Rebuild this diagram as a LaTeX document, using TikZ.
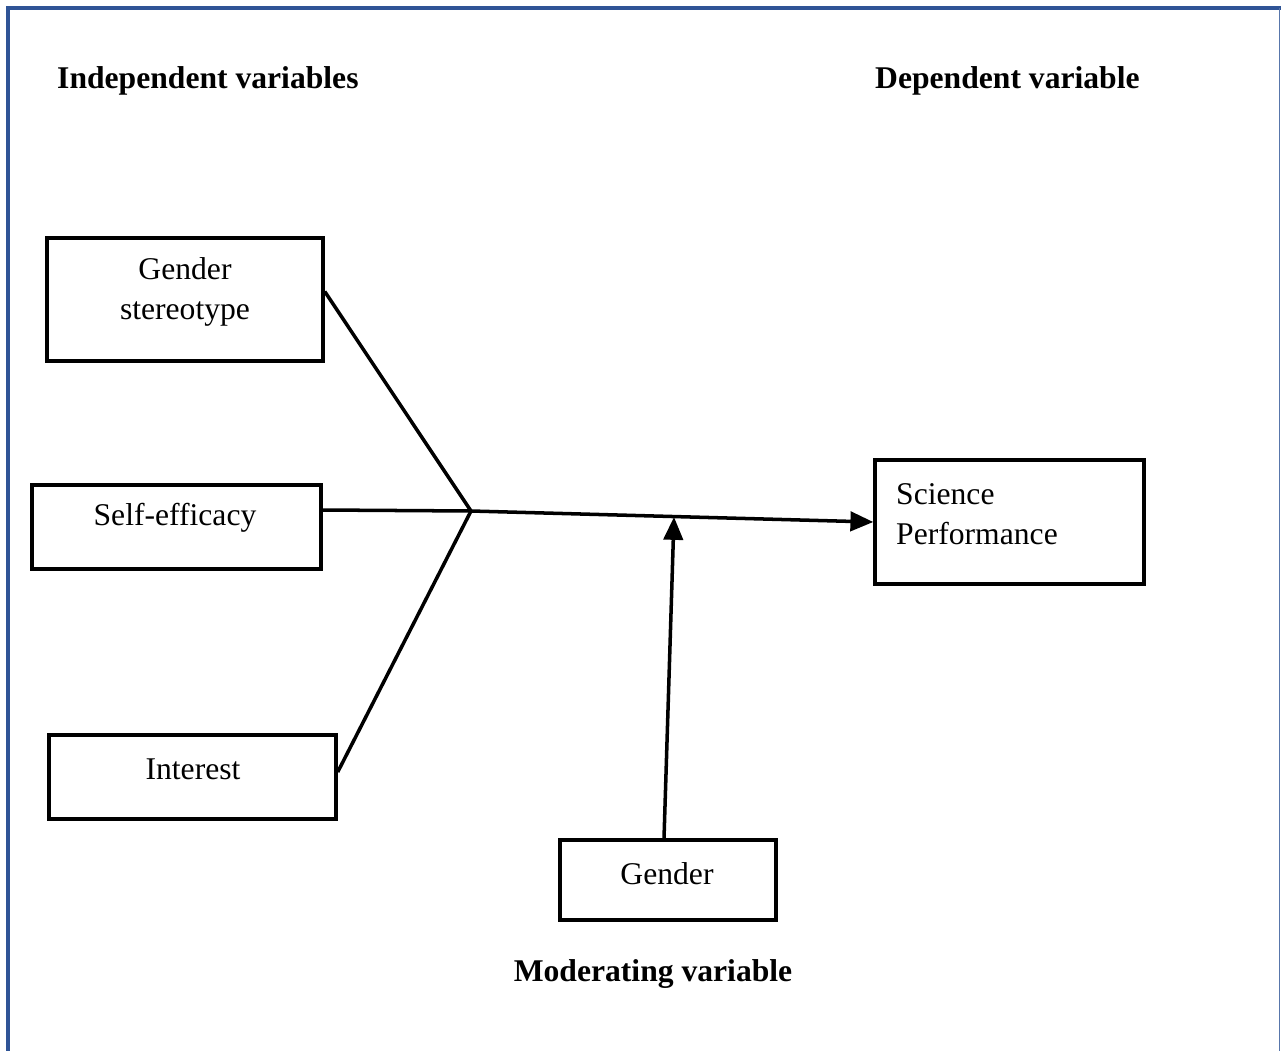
\documentclass[tikz,border=0pt]{standalone}
\usepackage{fontspec}
\setmainfont{Liberation Serif}
\usetikzlibrary{arrows.meta, positioning}
\definecolor{framebl}{HTML}{2F5496}
\tikzset{
  box/.style={draw, line width=2pt, inner sep=0pt},
  lbl/.style={font=\fontsize{18}{22.7}\selectfont, align=center},
  head/.style={font=\fontsize{18}{22}\selectfont\bfseries},
  link/.style={line width=2pt},
  arr/.style={line width=2pt, -{Triangle[length=13pt, width=11pt]}},
}

\begin{document}
\begin{tikzpicture}[x=0.02cm, y=-0.02cm]
        \useasboundingbox (0,0) rectangle (1281,1051);
        % frame
        \draw[framebl, line width=2.3pt] (8,1051) -- (8,8) -- (1281,8);
        \draw[framebl!80, line width=0.8pt] (1279.5,8) -- (1279.5,1051);

        % headings
        \node[head, anchor=west] (hind) at (51,81) {Independent variables};
        \node[head, anchor=west] (hdep) at (869,81) {Dependent variable};
        \node[head] (hmod) at (653,974) {Moderating variable};

        % boxes
        \node[box, minimum width=5.52cm, minimum height=2.46cm] (gs) at (185,299.5) {};
        \node[box, minimum width=5.78cm, minimum height=1.68cm] (se) at (176.5,527) {};
        \node[box, minimum width=5.74cm, minimum height=1.68cm] (it) at (192.5,777) {};
        \node[box, minimum width=5.38cm, minimum height=2.48cm] (sp) at (1009.5,522) {};
        \node[box, minimum width=4.32cm, minimum height=1.6cm] (gd) at (668,880) {};

        \node[lbl] (gstxt) at (185,292) {Gender\\stereotype};
        \node[lbl] (setxt) at (175,518) {Self-efficacy};
        \node[lbl] (ittxt) at (193,769) {Interest};
        \node[lbl, align=left, anchor=west] (sptxt) at (890,514) {Science\\Performance};
        \node[lbl] (gdtxt) at (667,874) {Gender};

        % connectors
        \coordinate (j) at (471,511);
        \coordinate (m) at (674,517);
        \draw[link] ([yshift=0.16cm]gs.east) -- (j);
        \draw[link] ([yshift=0.34cm]se.east) -- (j);
        \draw[link] ([yshift=0.1cm]it.east) -- (j);
        \draw[arr] (j) -- (sp.west);
        \draw[arr] ([xshift=-0.08cm]gd.north) -- (m);
\end{tikzpicture}
\end{document}
